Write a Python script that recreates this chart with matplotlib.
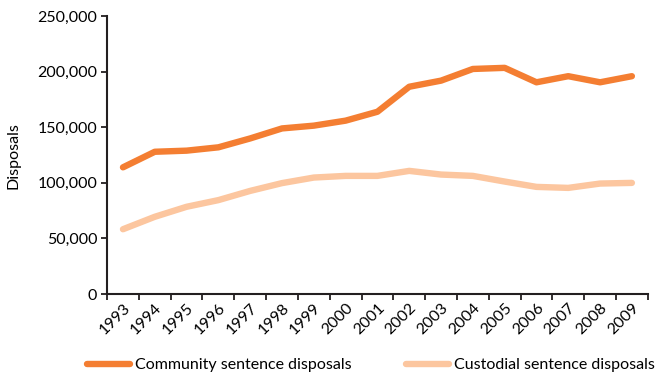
import numpy as np
import matplotlib

matplotlib.use("Agg")
import matplotlib.pyplot as plt
from matplotlib.ticker import FuncFormatter, FixedLocator

plt.rcParams["font.family"] = ["Lato", "DejaVu Sans"]

# ── Data ──────────────────────────────────────────────────────────────────────
years = [str(y) for y in range(1993, 2010)]
community = [114000, 128000, 129000, 132000, 140000, 149000, 151500, 156000,
             164000, 186500, 192000, 202500, 203500, 190500, 196000, 190500, 196000]
custodial = [58300, 69500, 78500, 84500, 92800, 99800, 104800, 106300,
             106300, 110800, 107500, 106300, 101200, 96400, 95500, 99400, 100000]

COL_COMM = "#F47E32"
COL_CUST = "#FCC69F"

fig = plt.figure(figsize=(6.61, 3.76), dpi=100)
ax = fig.add_axes([0.162, 0.218, 0.818, 0.739])

x = np.arange(len(years))
ax.plot(x, community, color=COL_COMM, lw=4.6, solid_capstyle="round",
        solid_joinstyle="round", label="Community sentence disposals")
ax.plot(x, custodial, color=COL_CUST, lw=4.6, solid_capstyle="round",
        solid_joinstyle="round", label="Custodial sentence disposals")

ax.set_xlim(-0.5, len(years) - 0.5)
ax.set_ylim(0, 250000)
ax.set_yticks(np.arange(0, 250001, 50000))
ax.yaxis.set_major_formatter(FuncFormatter(lambda v, p: f"{int(v):,}"))

ax.set_xticks(x)
ax.set_xticklabels(years, rotation=45, ha="right", rotation_mode="anchor")
ax.xaxis.set_minor_locator(FixedLocator(np.arange(-0.5, len(years), 1.0)))
ax.tick_params(axis="x", which="major", length=0, pad=5, labelsize=11.5)
ax.tick_params(axis="x", which="minor", length=4, width=1.3, color="#231F20")
ax.tick_params(axis="y", length=4, width=1.3, color="#231F20", labelsize=11.5,
               pad=3)

for s in ["top", "right"]:
    ax.spines[s].set_visible(False)
for s in ["left", "bottom"]:
    ax.spines[s].set_linewidth(1.5)
    ax.spines[s].set_color("#231F20")

ax.set_ylabel("Disposals", fontsize=11.5)
ax.yaxis.set_label_coords(-0.16, 0.5)

fig.legend(loc="center left", bbox_to_anchor=(0.132, 0.029), ncol=2,
           frameon=False, fontsize=11.5, handlelength=2.7, handletextpad=0.3,
           columnspacing=3.4, borderpad=0, borderaxespad=0)

fig.savefig("out.png", dpi=100)
